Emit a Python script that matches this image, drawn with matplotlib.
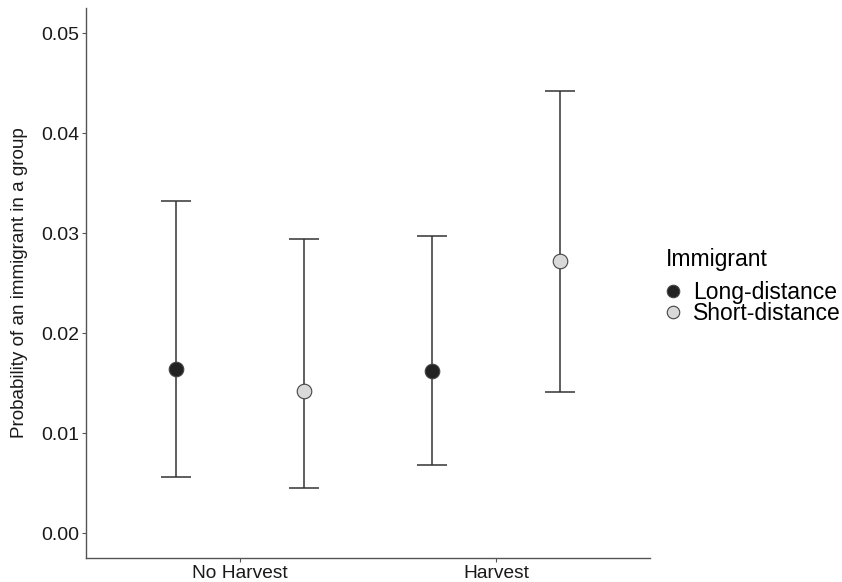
import matplotlib.pyplot as plt
from matplotlib.lines import Line2D

plt.rcParams['font.family'] = ['Liberation Sans', 'DejaVu Sans']

groups = ['No Harvest', 'Harvest']
immigrant = ['Long-distance', 'Short-distance']
# estimates and 95% limits per group, order: No Harvest, Harvest
est = {'Long-distance': [0.0164, 0.0162], 'Short-distance': [0.0142, 0.0272]}
lower = {'Long-distance': [0.0056, 0.0068], 'Short-distance': [0.0045, 0.0141]}
upper = {'Long-distance': [0.0332, 0.0297], 'Short-distance': [0.0294, 0.0442]}
fills = {'Long-distance': '#222222', 'Short-distance': '#d9d9d9'}

fig = plt.figure(figsize=(8.42, 5.82), dpi=100)
ax = fig.add_axes([86/842, 1 - 558/582, 564/842, 550/582])

dodge = {'Long-distance': -0.25, 'Short-distance': 0.25}
for imm in immigrant:
    xs = [i + 1 + dodge[imm] for i in range(len(groups))]
    e = est[imm]
    yerr = [[e[i] - lower[imm][i] for i in range(len(e))],
            [upper[imm][i] - e[i] for i in range(len(e))]]
    ax.errorbar(xs, e, yerr=yerr, fmt='none', ecolor='#333333',
                elinewidth=1.1, capsize=10.5, capthick=1.1, zorder=2)
    ax.plot(xs, e, 'o', ms=10.5, mfc=fills[imm], mec='#444444', mew=0.8,
            zorder=3, label=imm)

ax.set_xlim(0.4, 2.6)
ax.set_ylim(-0.0025, 0.0525)
ax.set_xticks([1, 2])
ax.set_xticklabels(groups, fontsize=13.8, color='#1a1a1a')
ax.set_yticks([0, 0.01, 0.02, 0.03, 0.04, 0.05])
ax.set_yticklabels(['0.00', '0.01', '0.02', '0.03', '0.04', '0.05'],
                   fontsize=14, color='#1a1a1a')
ax.tick_params(axis='both', length=3, width=0.8, color='#555555', pad=2)
ax.set_ylabel('Probability of an immigrant in a group', fontsize=13.6,
              color='#1a1a1a', labelpad=9)

for s in ['top', 'right']:
    ax.spines[s].set_visible(False)
for s in ['left', 'bottom']:
    ax.spines[s].set_color('#555555')
    ax.spines[s].set_linewidth(1.0)

handles = [Line2D([], [], ls='none', marker='o', ms=9, mfc=fills[k],
                  mec='#444444', mew=0.8) for k in immigrant]
leg = fig.legend(handles, immigrant, title='Immigrant', loc='upper left',
                 bbox_to_anchor=(666/842, 1 - 248/582), frameon=False,
                 fontsize=16.5, title_fontsize=16.5, handlelength=0.6,
                 handletextpad=0.58, labelspacing=-0.07, borderpad=0,
                 borderaxespad=0)
leg._legend_box.align = 'left'
leg._legend_box.sep = 7

fig.savefig('out.png', dpi=100)
